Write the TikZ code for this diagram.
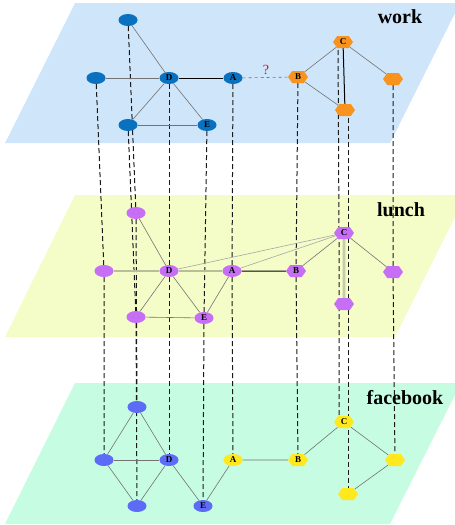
\documentclass[tikz,border=0pt]{standalone}
\usepackage{fontspec}
\setmainfont{Liberation Serif}
\usetikzlibrary{shapes}
\usetikzlibrary{backgrounds}
\definecolor{wkplane}{RGB}{206,229,250}
\definecolor{luplane}{RGB}{244,252,200}
\definecolor{fbplane}{RGB}{198,252,226}
\definecolor{wkblue}{RGB}{10,112,192}
\definecolor{wkorange}{RGB}{248,148,30}
\definecolor{lupurple}{RGB}{198,110,246}
\definecolor{fbblue}{RGB}{92,108,246}
\definecolor{fbyellow}{RGB}{255,232,30}
\definecolor{lulight}{RGB}{184,190,152}
\tikzset{
	netnode/.style = {inner sep=0pt, text centered,
		font=\fontsize{9}{9}\selectfont\bfseries},
	ell/.style = {netnode, ellipse, minimum width=19pt, minimum height=12pt},
	hex/.style = {netnode, signal, signal to=west and east,
		signal pointer angle=110, minimum width=20pt, minimum height=12pt},
	wk_e/.style = {ell, fill=wkblue},% work, ellipse
	wk_h/.style = {hex, fill=wkorange},% work, hexagon
	lu_e/.style = {ell, fill=lupurple},% lunch, ellipse
	lu_h/.style = {hex, fill=lupurple},% lunch, hexagon
	fb_e/.style = {ell, fill=fbblue},% facebook, ellipse
	fb_y/.style = {ell, fill=fbyellow},% facebook, yellow ellipse
	fb_h/.style = {hex, fill=fbyellow},% facebook, hexagon
	layername/.style = {font=\fontsize{20}{20}\selectfont\bfseries},
	edge/.style = {draw=black!55, line width=0.6pt},
	strong/.style = {draw=black, line width=1pt},
	soft/.style = {draw=lulight, line width=1.6pt},
	link/.style = {draw=black!90, line width=1pt, dash pattern=on 5pt off 3pt}
}
\begin{document}
\begin{tikzpicture}[x=1pt,y=-1pt]
	\useasboundingbox (0,0) rectangle (455,525);
	\begin{scope}[on background layer]
		\fill[wkplane] (75,3) -- (460,3) -- (390,143) -- (5,143) -- cycle;
		\fill[luplane] (75,195) -- (466,195) -- (395,337) -- (5,337) -- cycle;
		\fill[fbplane] (75,383) -- (461,383) -- (390,524) -- (5,524) -- cycle;
	\end{scope}
	% work
	\node[wk_e] (wT) at (128,20) {};
	\node[wk_e] (wL) at (96,78) {};
	\node[wk_e] (wD) at (169,78) {D};
	\node[wk_e] (wA) at (233,78) {A};
	\node[wk_h] (wB) at (298,77) {B};
	\node[wk_h] (wC) at (343,42) {C};
	\node[wk_h] (wR) at (393,79) {};
	\node[wk_h] (wH) at (345,110) {};
	\node[wk_e] (wM) at (128,125) {};
	\node[wk_e] (wE) at (207,125) {E};
	\node[text=red, font=\fontsize{14}{14}\selectfont] (q) at (266,70) {?};
	\node[layername] (wname) at (400,17) {work};
	% lunch
	\node[lu_e] (lT) at (136,213) {};
	\node[lu_e] (lL) at (104,271) {};
	\node[lu_e] (lD) at (169,271) {D};
	\node[lu_e] (lA) at (232,271) {A};
	\node[lu_h] (lB) at (296,271) {B};
	\node[lu_h] (lC) at (344,233) {C};
	\node[lu_h] (lR) at (393,272) {};
	\node[lu_h] (lH) at (344,304) {};
	\node[lu_e] (lM) at (136,317) {};
	\node[lu_e] (lE) at (204,318) {E};
	\node[layername] (lname) at (401,210) {lunch};
	% facebook
	\node[fb_e] (fT) at (137,407) {};
	\node[fb_e] (fL) at (104,460) {};
	\node[fb_e] (fD) at (169,460) {D};
	\node[fb_y] (fA) at (233,460) {A};
	\node[fb_h] (fB) at (298,460) {B};
	\node[fb_h] (fC) at (344,422) {C};
	\node[fb_h] (fR) at (395,460) {};
	\node[fb_h] (fH) at (348,494) {};
	\node[fb_e] (fM) at (137,506) {};
	\node[fb_e] (fE) at (203,506) {E};
	\node[layername] (fname) at (405,398) {facebook};
	\begin{scope}[on background layer]
		% same person on every layer
		\draw[link] (wL) -- (lL) -- (fL);
		\draw[link] (wT) -- (lT) -- (fT);
		\draw[link] (wM) -- (lM) -- (fM);
		\draw[link] (wD) -- (lD) -- (fD);
		\draw[link] (wE) -- (lE) -- (fE);
		\draw[link] (wA) -- (lA) -- (fA);
		\draw[link] (wB) -- (lB) -- (fB);
		\draw[link] ([xshift=-5pt]wC.center) -- ([xshift=-5pt]lC.center) -- ([xshift=-5pt]fC.center);
		\draw[link] ([xshift=3pt]wH.center) -- ([xshift=4pt]lH.center) -- (fH.center);
		\draw[link] (wR) -- (lR) -- (fR);
		% work
		\draw[edge] (wT) -- (wD);
		\draw[edge] (wL) -- (wD);
		\draw[edge] (wD) -- (wM);
		\draw[edge] (wD) -- (wE);
		\draw[edge] (wM) -- (wE);
		\draw[strong] (wD) -- (wA);
		\draw[edge, dashed] (wA) -- (wB);
		\draw[edge] (wB) -- (wC);
		\draw[edge] (wB) -- (wH);
		\draw[edge] (wC) -- (wR);
		\draw[strong] (wC) -- (wH);
		% lunch
		\draw[edge] (lT) -- (lD);
		\draw[soft] (lL) -- (lD);
		\draw[soft] (lD) -- (lA);
		\draw[strong] (lA) -- (lB);
		\draw[edge, black!35] (lD) -- (lC);
		\draw[edge, black!35] (lA) -- (lC);
		\draw[edge] (lB) -- (lC);
		\draw[edge] (lC) -- (lR);
		\draw[edge, double=luplane, double distance=1.2pt, line width=0.5pt] (lC) -- (lH);
		\draw[edge] (lD) -- (lM);
		\draw[edge] (lD) -- (lE);
		\draw[edge] (lM) -- (lE);
		\draw[edge] (lA) -- (lE);
		% facebook
		\draw[edge] (fT) -- (fL);
		\draw[edge] (fT) -- (fD);
		\draw[edge] (fL) -- (fD);
		\draw[edge] (fL) -- (fM);
		\draw[edge] (fD) -- (fM);
		\draw[edge] (fD) -- (fE);
		\draw[edge] (fE) -- (fA);
		\draw[edge] (fA) -- (fB);
		\draw[edge] (fB) -- (fC);
		\draw[edge] (fC) -- (fR);
		\draw[edge] (fR) -- (fH);
	\end{scope}
\end{tikzpicture}
\end{document}
